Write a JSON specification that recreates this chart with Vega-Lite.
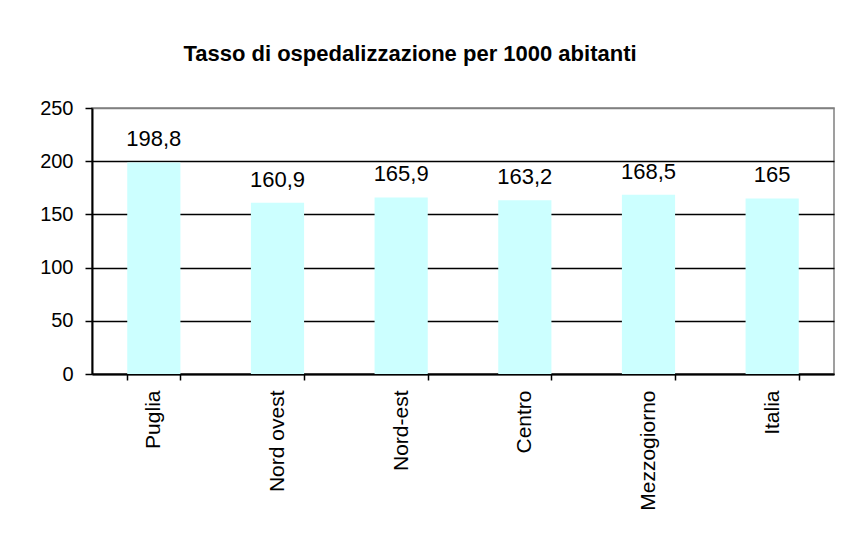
{
  "$schema": "https://vega.github.io/schema/vega-lite/v6.json",
  "autosize": "none",
  "padding": {"left": 92, "top": 108, "right": 14, "bottom": 168},
  "width": 742,
  "height": 266,
  "background": "white",
  "config": {
    "font": "Liberation Sans",
    "locale": {"number": {"decimal": ",", "thousands": ".", "grouping": [3], "currency": ["€", ""]}},
    "view": {"stroke": "#808080", "strokeWidth": 1.5}
  },
  "title": {
    "text": "Tasso di ospedalizzazione per 1000 abitanti",
    "fontSize": 22,
    "fontWeight": "bold",
    "color": "black",
    "offset": 32,
    "dx": -53
  },
  "data": {
    "values": [
      {"area": "Puglia", "tasso": 198.8},
      {"area": "Nord ovest", "tasso": 160.9},
      {"area": "Nord-est", "tasso": 165.9},
      {"area": "Centro", "tasso": 163.2},
      {"area": "Mezzogiorno", "tasso": 168.5},
      {"area": "Italia", "tasso": 165}
    ]
  },
  "encoding": {
    "x": {
      "field": "area",
      "type": "nominal",
      "sort": null,
      "scale": {"paddingInner": 0.57, "paddingOuter": 0.285},
      "axis": {
        "title": null,
        "labelAngle": -90,
        "labelAlign": "right",
        "labelBaseline": "middle",
        "labelFontSize": 21,
        "labelColor": "black",
        "labelPadding": 10,
        "tickBand": "extent",
        "tickSize": 6,
        "tickColor": "black",
        "tickWidth": 1.5,
        "domainColor": "black",
        "domainWidth": 2
      }
    },
    "y": {
      "field": "tasso",
      "type": "quantitative",
      "scale": {"domain": [0, 250], "nice": false},
      "axis": {
        "title": null,
        "values": [0, 50, 100, 150, 200, 250],
        "labelFontSize": 20,
        "labelColor": "black",
        "labelPadding": 12,
        "tickSize": 7,
        "tickColor": "black",
        "tickWidth": 1.5,
        "domainColor": "black",
        "domainWidth": 2,
        "grid": true,
        "gridColor": {"condition": {"test": "datum.value == 250", "value": "#808080"}, "value": "black"},
        "gridWidth": 1.5,
        "gridOpacity": 1
      }
    }
  },
  "layer": [
    {"mark": {"type": "bar", "color": "#CCFFFF"}},
    {
      "mark": {"type": "text", "fontSize": 22, "color": "black", "baseline": "bottom", "dy": -11},
      "encoding": {"text": {"field": "tasso", "type": "quantitative", "format": "~f"}}
    }
  ]
}
